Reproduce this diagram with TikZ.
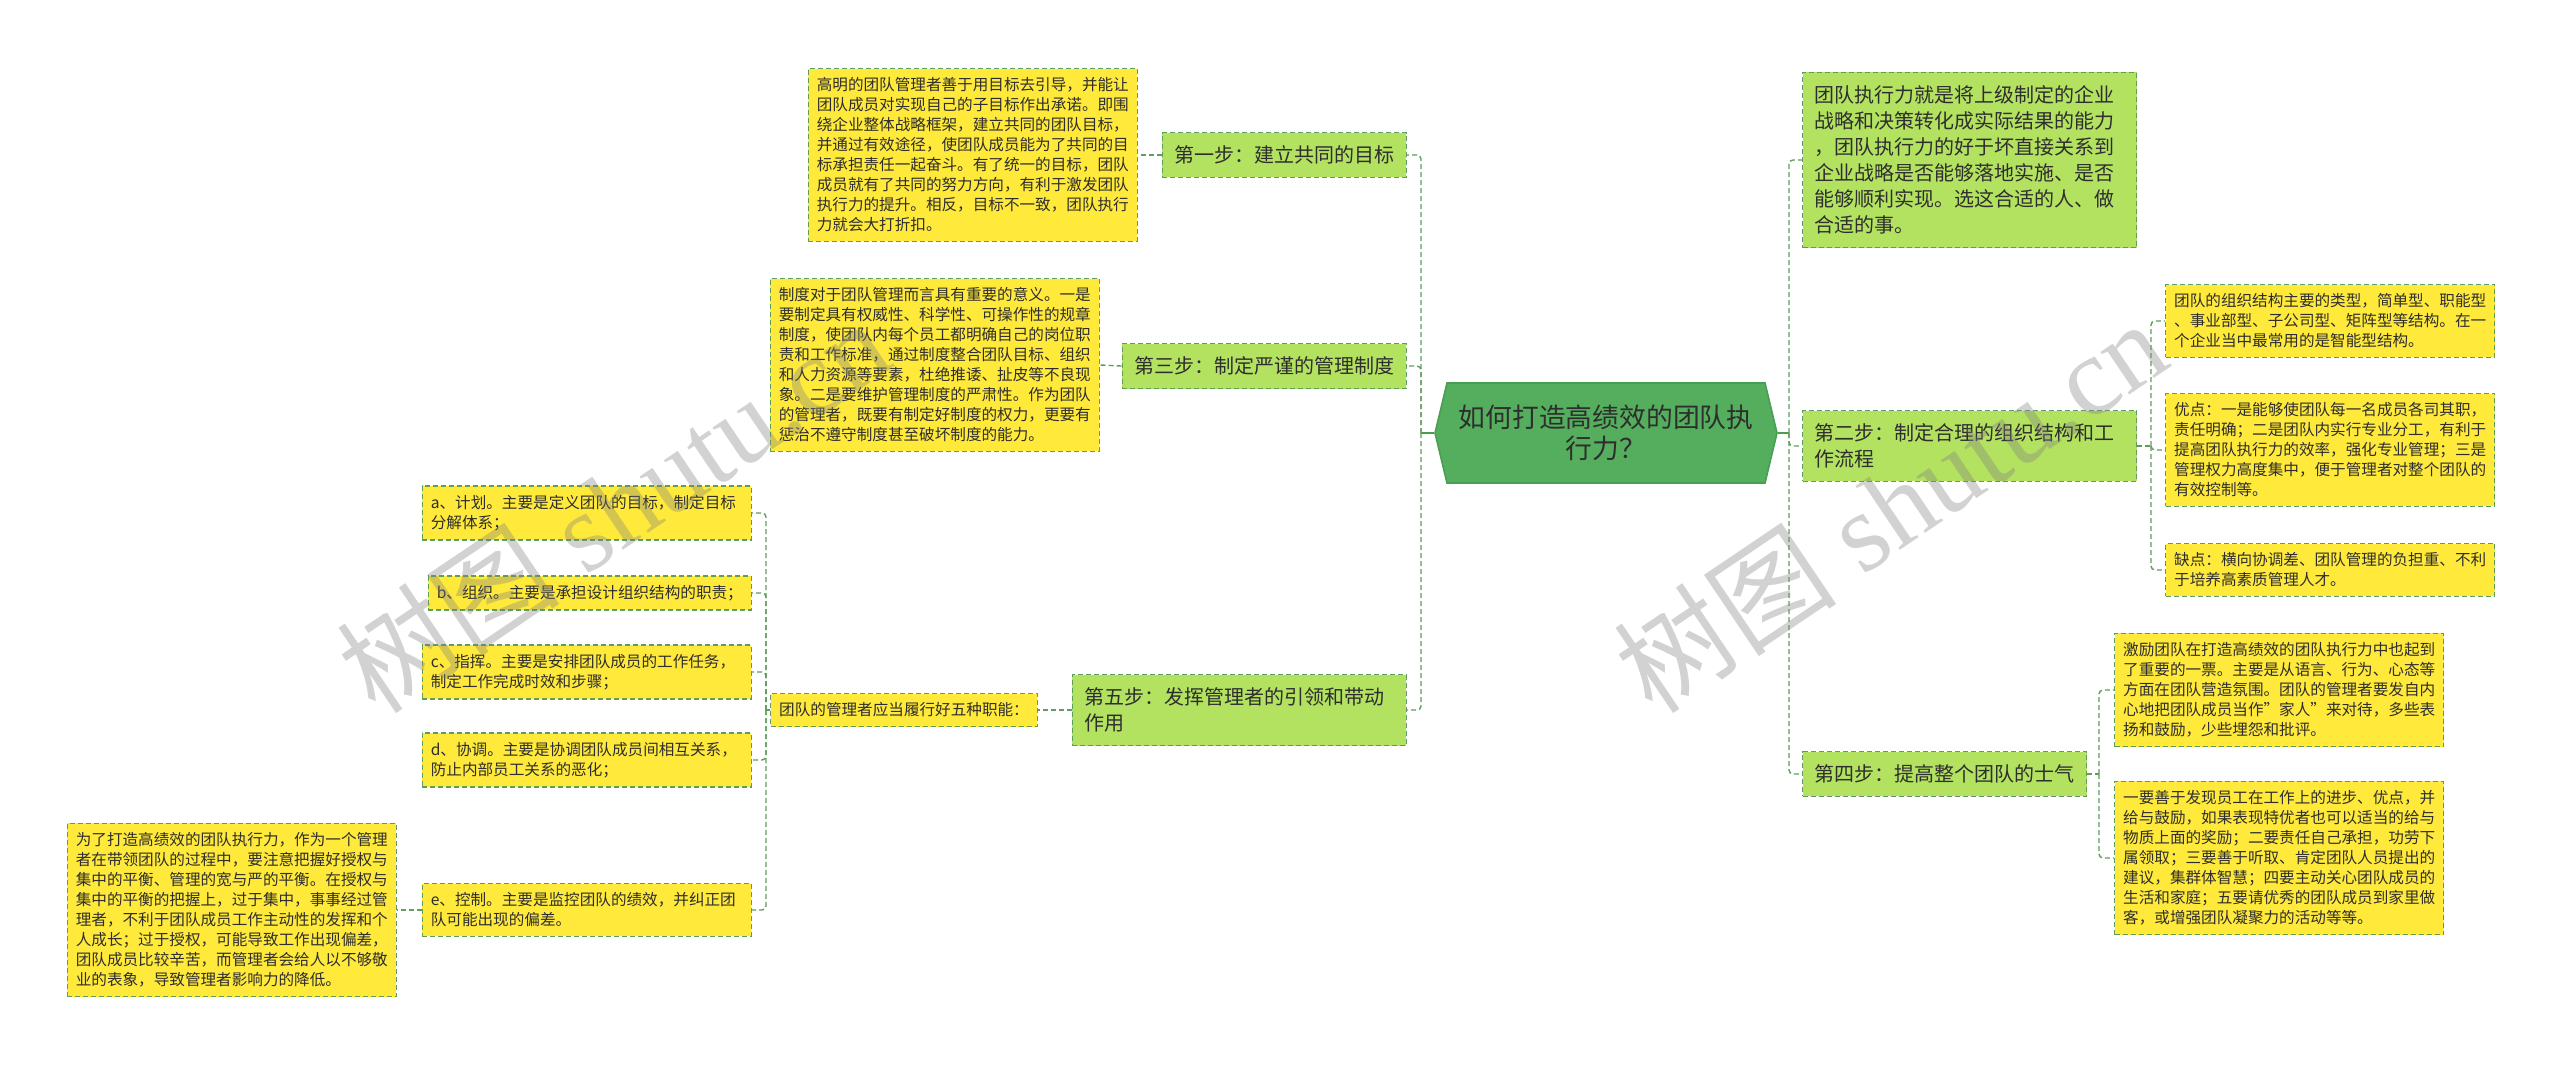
\documentclass[tikz,border=0pt]{standalone}
\usepackage{fontspec}
\setmainfont{Liberation Serif}
\newfontfamily\cjk{Noto Sans CJK SC}
\usetikzlibrary{shapes.symbols}
\definecolor{lineg}{HTML}{5E9E5A}
\definecolor{leafy}{HTML}{FFE93B}
\definecolor{stepfill}{HTML}{B3E160}
\definecolor{rootfill}{HTML}{55AE5D}
\definecolor{rootline}{HTML}{4A9E52}
\definecolor{txt}{HTML}{2E2E2E}
\tikzset{
	leaf/.style={draw=lineg, fill=leafy, dash pattern=on 2.5pt off 1.5pt, line width=0.7pt, text=txt, align=left,
		font=\cjk\fontsize{7.8}{10}\selectfont, inner xsep=4.25pt, inner ysep=4.6pt},
	leafw/.style={leaf, text width=156pt},
	stepbox/.style={draw=lineg, fill=stepfill, dash pattern=on 2.5pt off 1.5pt, line width=0.7pt, text=txt, align=left,
		font=\cjk\fontsize{10}{13}\selectfont, inner xsep=6pt, inner ysep=6.6pt},
	stepw/.style={stepbox, text width=155pt},
	rootbox/.style={shape=signal, signal to=east and west, signal pointer angle=153, draw=rootline, fill=rootfill,
		line width=0.8pt, text=txt, align=center, font=\cjk\fontsize{13.4}{15.5}\selectfont,
		text width=150pt, minimum width=171pt, minimum height=50pt},
	link/.style={draw=lineg, dash pattern=on 2.5pt off 1.5pt, line width=0.7pt, rounded corners=2pt},
	rootlink/.style={draw=rootline, line width=1pt},
	wmark/.style={text=gray, text opacity=0.35, rotate=34, font=\fontsize{56}{56}\selectfont}
}
\begin{document}
\begin{tikzpicture}[x=0.5pt, y=-0.5pt]
		\fill[white] (0,0) rectangle (2560,1066);
		\node[rootbox] (root) at (1606,433) {如何打造高绩效的团队执\\行力？};
		\coordinate (lsp) at (1421,433);
		\coordinate (rsp) at (1789,433);

		\node[stepbox, anchor=east] (s1) at (1407,155) {第一步：建立共同的目标};
		\node[stepbox, anchor=east] (s3) at (1407,366) {第三步：制定严谨的管理制度};
		\node[stepw, anchor=east] (s5) at (1407,710) {第五步：发挥管理者的引领和带动\\作用};
		\node[leafw, anchor=east] (gA) at (1138,155) {高明的团队管理者善于用目标去引导，并能让\\团队成员对实现自己的子目标作出承诺。即围\\绕企业整体战略框架，建立共同的团队目标，\\并通过有效途径，使团队成员能为了共同的目\\标承担责任一起奋斗。有了统一的目标，团队\\成员就有了共同的努力方向，有利于激发团队\\执行力的提升。相反，目标不一致，团队执行\\力就会大打折扣。};
		\node[leafw, anchor=east] (gB) at (1100,365) {制度对于团队管理而言具有重要的意义。一是\\要制定具有权威性、科学性、可操作性的规章\\制度，使团队内每个员工都明确自己的岗位职\\责和工作标准，通过制度整合团队目标、组织\\和人力资源等要素，杜绝推诿、扯皮等不良现\\象。二是要维护管理制度的严肃性。作为团队\\的管理者，既要有制定好制度的权力，更要有\\惩治不遵守制度甚至破坏制度的能力。};
		\node[leaf, anchor=east] (f0) at (1038,710) {团队的管理者应当履行好五种职能：};
		\coordinate (fsp) at (766,710);
		\node[leafw, anchor=east] (fa) at (752,513) {a、计划。主要是定义团队的目标，制定目标\\分解体系；};
		\node[leaf, text width=153pt, anchor=east] (fb) at (752,593) {b、组织。主要是承担设计组织结构的职责；};
		\node[leafw, anchor=east] (fc) at (752,672) {c、指挥。主要是安排团队成员的工作任务，\\制定工作完成时效和步骤；};
		\node[leafw, anchor=east] (fd) at (752,760) {d、协调。主要是协调团队成员间相互关系，\\防止内部员工关系的恶化；};
		\node[leafw, anchor=east] (fe) at (752,910) {e、控制。主要是监控团队的绩效，并纠正团\\队可能出现的偏差。};
		\node[leafw, anchor=east] (gE) at (397,910) {为了打造高绩效的团队执行力，作为一个管理\\者在带领团队的过程中，要注意把握好授权与\\集中的平衡、管理的宽与严的平衡。在授权与\\集中的平衡的把握上，过于集中，事事经过管\\理者，不利于团队成员工作主动性的发挥和个\\人成长；过于授权，可能导致工作出现偏差，\\团队成员比较辛苦，而管理者会给人以不够敬\\业的表象，导致管理者影响力的降低。};

		\node[stepw, anchor=west] (r0) at (1802,160) {团队执行力就是将上级制定的企业\\战略和决策转化成实际结果的能力\\，团队执行力的好于坏直接关系到\\企业战略是否能够落地实施、是否\\能够顺利实现。选这合适的人、做\\合适的事。};
		\node[stepw, anchor=west] (s2) at (1802,446) {第二步：制定合理的组织结构和工\\作流程};
		\node[stepbox, anchor=west] (s4) at (1802,774) {第四步：提高整个团队的士气};
		\coordinate (osp) at (2151,446);
		\coordinate (msp) at (2099,774);
		\node[leafw, anchor=west] (o1) at (2165,321) {团队的组织结构主要的类型，简单型、职能型\\、事业部型、子公司型、矩阵型等结构。在一\\个企业当中最常用的是智能型结构。};
		\node[leafw, anchor=west] (o2) at (2165,450) {优点：一是能够使团队每一名成员各司其职，\\责任明确；二是团队内实行专业分工，有利于\\提高团队执行力的效率，强化专业管理；三是\\管理权力高度集中，便于管理者对整个团队的\\有效控制等。};
		\node[leafw, anchor=west] (o3) at (2165,570) {缺点：横向协调差、团队管理的负担重、不利\\于培养高素质管理人才。};
		\node[leafw, anchor=west] (m1) at (2114,690) {激励团队在打造高绩效的团队执行力中也起到\\了重要的一票。主要是从语言、行为、心态等\\方面在团队营造氛围。团队的管理者要发自内\\心地把团队成员当作”家人”来对待，多些表\\扬和鼓励，少些埋怨和批评。};
		\node[leafw, anchor=west] (m2) at (2114,858) {一要善于发现员工在工作上的进步、优点，并\\给与鼓励，如果表现特优者也可以适当的给与\\物质上面的奖励；二要责任自己承担，功劳下\\属领取；三要善于听取、肯定团队人员提出的\\建议，集群体智慧；四要主动关心团队成员的\\生活和家庭；五要请优秀的团队成员到家里做\\客，或增强团队凝聚力的活动等等。};

		\draw[rootlink] (root.west) -- (lsp);
		\draw[rootlink] (root.east) -- (rsp);
		\foreach \n in {s1,s3,s5} \draw[link] (lsp) |- (\n.east);
		\foreach \n in {r0,s2,s4} \draw[link] (rsp) |- (\n.west);
		\draw[link] (s1.west) -- (gA.east);
		\draw[link] (s3.west) -- (gB.east);
		\draw[link] (s5.west) -- (f0.east);
		\draw[link] (f0.west) -- (fsp);
		\foreach \n in {fa,fb,fc,fd,fe} \draw[link] (fsp) |- (\n.east);
		\draw[link] (fe.west) -- (gE.east);
		\draw[link] (s2.east) -- (osp);
		\foreach \n in {o1,o2,o3} \draw[link] (osp) |- (\n.west);
		\draw[link] (s4.east) -- (msp);
		\foreach \n in {m1,m2} \draw[link] (msp) |- (\n.west);

		\node[wmark] (wm1) at (613,506) {{\cjk 树图} shutu.cn};
		\node[wmark] (wm2) at (1890,506) {{\cjk 树图} shutu.cn};
	\end{tikzpicture}
\end{document}
